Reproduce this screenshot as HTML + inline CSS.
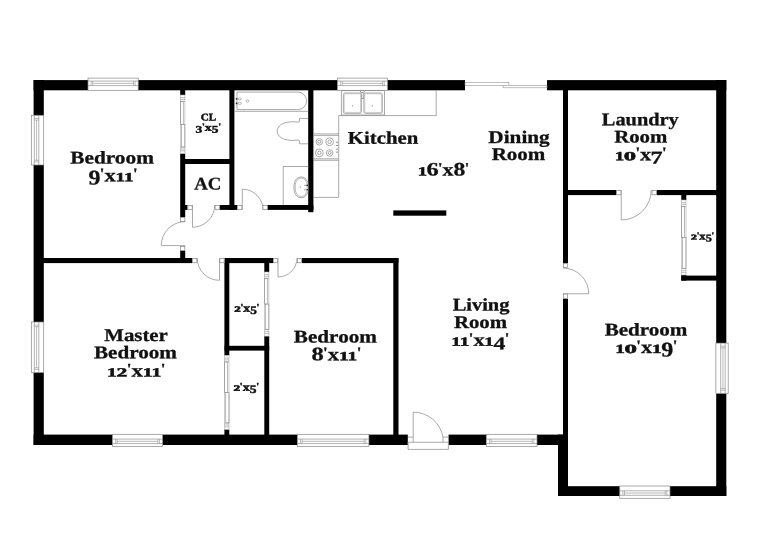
<!DOCTYPE html>
<html lang="en">
<head>
<meta charset="utf-8">
<title>Floor Plan</title>
<style>
html,body{margin:0;padding:0;background:#fff;}
body{width:760px;height:553px;overflow:hidden;font-family:"Liberation Serif",serif;}
svg{display:block;}
</style>
</head>
<body>
<svg width="760" height="553" viewBox="0 0 760 553">
<rect x="0" y="0" width="760" height="553" fill="#fff"/>
<g id="doors">
<path d="M185.25 245.60 L161.25 245.60 A24.00 24.00 0 0 1 185.25 221.60" fill="none" stroke="#858585" stroke-width="0.7"/>
<path d="M192.50 205.00 L192.50 227.25 A22.25 22.25 0 0 0 214.75 205.00" fill="none" stroke="#858585" stroke-width="0.7"/>
<path d="M242.30 210.00 L242.30 189.20 A20.80 20.80 0 0 1 263.10 210.00" fill="none" stroke="#858585" stroke-width="0.7"/>
<path d="M219.50 258.00 L219.50 280.30 A22.30 22.30 0 0 1 197.20 258.00" fill="none" stroke="#858585" stroke-width="0.7"/>
<path d="M278.00 258.00 L278.00 277.00 A19.00 19.00 0 0 0 297.00 258.00" fill="none" stroke="#858585" stroke-width="0.7"/>
<path d="M563.00 293.75 L588.75 293.75 A25.75 25.75 0 0 0 563.00 268.00" fill="none" stroke="#858585" stroke-width="0.7"/>
<path d="M621.25 190.00 L621.25 220.00 A30.00 30.00 0 0 0 651.25 190.00" fill="none" stroke="#858585" stroke-width="0.7"/>
</g>
<g id="walls" fill="#000">
<rect x="33.60" y="80.10" width="54.40" height="10.20" fill="#000"/>
<rect x="138.00" y="80.10" width="199.50" height="10.20" fill="#000"/>
<rect x="387.40" y="80.10" width="77.60" height="10.20" fill="#000"/>
<rect x="547.00" y="80.10" width="179.30" height="10.20" fill="#000"/>
<rect x="33.60" y="80.10" width="10.20" height="35.50" fill="#000"/>
<rect x="33.60" y="165.00" width="10.20" height="157.00" fill="#000"/>
<rect x="33.60" y="372.50" width="10.20" height="72.50" fill="#000"/>
<rect x="33.60" y="434.60" width="78.90" height="10.40" fill="#000"/>
<rect x="162.50" y="434.60" width="134.90" height="10.40" fill="#000"/>
<rect x="368.90" y="434.60" width="39.00" height="10.40" fill="#000"/>
<rect x="448.30" y="434.60" width="38.00" height="10.40" fill="#000"/>
<rect x="537.00" y="434.60" width="31.00" height="10.40" fill="#000"/>
<rect x="558.00" y="434.60" width="10.00" height="61.40" fill="#000"/>
<rect x="558.00" y="486.20" width="61.80" height="9.80" fill="#000"/>
<rect x="670.00" y="486.20" width="56.30" height="9.80" fill="#000"/>
<rect x="716.20" y="80.10" width="10.10" height="263.20" fill="#000"/>
<rect x="716.20" y="393.50" width="10.10" height="102.50" fill="#000"/>
<rect x="180.20" y="89.30" width="5.00" height="5.70" fill="#000"/>
<rect x="180.20" y="153.50" width="5.00" height="63.50" fill="#000"/>
<rect x="180.20" y="250.70" width="5.00" height="8.30" fill="#000"/>
<rect x="185.00" y="159.00" width="45.00" height="5.00" fill="#000"/>
<rect x="229.40" y="89.30" width="5.00" height="120.70" fill="#000"/>
<rect x="185.00" y="205.00" width="2.50" height="4.90" fill="#000"/>
<rect x="219.75" y="205.00" width="17.35" height="4.90" fill="#000"/>
<rect x="267.50" y="205.00" width="45.90" height="4.90" fill="#000"/>
<rect x="308.20" y="89.30" width="5.20" height="122.90" fill="#000"/>
<rect x="42.80" y="258.00" width="149.20" height="5.10" fill="#000"/>
<rect x="224.50" y="258.00" width="48.50" height="5.10" fill="#000"/>
<rect x="302.00" y="258.00" width="96.40" height="5.10" fill="#000"/>
<rect x="393.30" y="258.00" width="5.20" height="177.60" fill="#000"/>
<rect x="393.30" y="210.40" width="53.00" height="5.30" fill="#000"/>
<rect x="224.40" y="263.00" width="4.90" height="92.50" fill="#000"/>
<rect x="224.40" y="429.40" width="4.90" height="6.20" fill="#000"/>
<rect x="224.50" y="345.80" width="44.70" height="4.80" fill="#000"/>
<rect x="264.30" y="263.00" width="4.90" height="9.00" fill="#000"/>
<rect x="264.30" y="336.10" width="4.90" height="99.50" fill="#000"/>
<rect x="563.00" y="89.30" width="5.00" height="173.70" fill="#000"/>
<rect x="563.00" y="298.75" width="5.00" height="136.85" fill="#000"/>
<rect x="567.00" y="190.00" width="49.30" height="5.10" fill="#000"/>
<rect x="656.70" y="190.00" width="60.50" height="5.10" fill="#000"/>
<rect x="681.30" y="195.00" width="5.00" height="5.00" fill="#000"/>
<rect x="681.30" y="275.00" width="5.00" height="5.60" fill="#000"/>
<rect x="681.30" y="275.60" width="35.90" height="5.00" fill="#000"/>
</g>
<g id="frames">
<rect x="180.55" y="217.35" width="4.30" height="4.30" fill="#fff" stroke="#858585" stroke-width="0.7"/>
<rect x="180.55" y="246.35" width="4.30" height="4.00" fill="#fff" stroke="#858585" stroke-width="0.7"/>
<rect x="187.85" y="205.35" width="4.30" height="4.20" fill="#fff" stroke="#858585" stroke-width="0.7"/>
<rect x="215.10" y="205.35" width="4.30" height="4.20" fill="#fff" stroke="#858585" stroke-width="0.7"/>
<rect x="237.45" y="205.35" width="4.40" height="4.20" fill="#fff" stroke="#858585" stroke-width="0.7"/>
<rect x="262.95" y="205.35" width="4.30" height="4.20" fill="#fff" stroke="#858585" stroke-width="0.7"/>
<rect x="192.35" y="258.35" width="4.50" height="4.40" fill="#fff" stroke="#858585" stroke-width="0.7"/>
<rect x="219.85" y="258.35" width="4.30" height="4.40" fill="#fff" stroke="#858585" stroke-width="0.7"/>
<rect x="273.35" y="258.35" width="4.30" height="4.40" fill="#fff" stroke="#858585" stroke-width="0.7"/>
<rect x="297.35" y="258.35" width="4.30" height="4.40" fill="#fff" stroke="#858585" stroke-width="0.7"/>
<rect x="563.35" y="263.35" width="4.30" height="4.30" fill="#fff" stroke="#858585" stroke-width="0.7"/>
<rect x="563.35" y="294.10" width="4.30" height="4.30" fill="#fff" stroke="#858585" stroke-width="0.7"/>
<rect x="616.65" y="190.35" width="4.30" height="4.40" fill="#fff" stroke="#858585" stroke-width="0.7"/>
<rect x="652.05" y="190.35" width="4.30" height="4.40" fill="#fff" stroke="#858585" stroke-width="0.7"/>
</g>
<g id="windows">
<rect x="88.00" y="78.10" width="50.20" height="12.20" fill="#fff" stroke="#858585" stroke-width="0.7"/>
<line x1="88.00" y1="81.10" x2="138.20" y2="81.10" stroke="#858585" stroke-width="0.63"/>
<line x1="88.00" y1="85.60" x2="138.20" y2="85.60" stroke="#858585" stroke-width="0.63"/>
<line x1="91.10" y1="81.10" x2="91.10" y2="85.60" stroke="#858585" stroke-width="0.5599999999999999"/>
<line x1="92.70" y1="81.10" x2="92.70" y2="85.60" stroke="#858585" stroke-width="0.5599999999999999"/>
<line x1="135.10" y1="81.10" x2="135.10" y2="85.60" stroke="#858585" stroke-width="0.5599999999999999"/>
<line x1="133.50" y1="81.10" x2="133.50" y2="85.60" stroke="#858585" stroke-width="0.5599999999999999"/>
<line x1="92.70" y1="83.35" x2="133.50" y2="83.35" stroke="#858585" stroke-width="0.5599999999999999"/>
<rect x="337.50" y="78.10" width="49.90" height="12.20" fill="#fff" stroke="#858585" stroke-width="0.7"/>
<line x1="337.50" y1="81.10" x2="387.40" y2="81.10" stroke="#858585" stroke-width="0.63"/>
<line x1="337.50" y1="85.60" x2="387.40" y2="85.60" stroke="#858585" stroke-width="0.63"/>
<line x1="340.60" y1="81.10" x2="340.60" y2="85.60" stroke="#858585" stroke-width="0.5599999999999999"/>
<line x1="342.20" y1="81.10" x2="342.20" y2="85.60" stroke="#858585" stroke-width="0.5599999999999999"/>
<line x1="384.30" y1="81.10" x2="384.30" y2="85.60" stroke="#858585" stroke-width="0.5599999999999999"/>
<line x1="382.70" y1="81.10" x2="382.70" y2="85.60" stroke="#858585" stroke-width="0.5599999999999999"/>
<line x1="342.20" y1="83.35" x2="382.70" y2="83.35" stroke="#858585" stroke-width="0.5599999999999999"/>
<rect x="112.50" y="434.30" width="50.00" height="12.30" fill="#fff" stroke="#858585" stroke-width="0.7"/>
<line x1="112.50" y1="443.60" x2="162.50" y2="443.60" stroke="#858585" stroke-width="0.63"/>
<line x1="112.50" y1="439.10" x2="162.50" y2="439.10" stroke="#858585" stroke-width="0.63"/>
<line x1="115.60" y1="443.60" x2="115.60" y2="439.10" stroke="#858585" stroke-width="0.5599999999999999"/>
<line x1="117.20" y1="443.60" x2="117.20" y2="439.10" stroke="#858585" stroke-width="0.5599999999999999"/>
<line x1="159.40" y1="443.60" x2="159.40" y2="439.10" stroke="#858585" stroke-width="0.5599999999999999"/>
<line x1="157.80" y1="443.60" x2="157.80" y2="439.10" stroke="#858585" stroke-width="0.5599999999999999"/>
<line x1="117.20" y1="441.35" x2="157.80" y2="441.35" stroke="#858585" stroke-width="0.5599999999999999"/>
<rect x="297.40" y="434.30" width="71.50" height="12.30" fill="#fff" stroke="#858585" stroke-width="0.7"/>
<line x1="297.40" y1="443.60" x2="368.90" y2="443.60" stroke="#858585" stroke-width="0.63"/>
<line x1="297.40" y1="439.10" x2="368.90" y2="439.10" stroke="#858585" stroke-width="0.63"/>
<line x1="300.50" y1="443.60" x2="300.50" y2="439.10" stroke="#858585" stroke-width="0.5599999999999999"/>
<line x1="302.10" y1="443.60" x2="302.10" y2="439.10" stroke="#858585" stroke-width="0.5599999999999999"/>
<line x1="365.80" y1="443.60" x2="365.80" y2="439.10" stroke="#858585" stroke-width="0.5599999999999999"/>
<line x1="364.20" y1="443.60" x2="364.20" y2="439.10" stroke="#858585" stroke-width="0.5599999999999999"/>
<line x1="302.10" y1="441.35" x2="364.20" y2="441.35" stroke="#858585" stroke-width="0.5599999999999999"/>
<rect x="486.30" y="434.30" width="50.70" height="12.30" fill="#fff" stroke="#858585" stroke-width="0.7"/>
<line x1="486.30" y1="443.60" x2="537.00" y2="443.60" stroke="#858585" stroke-width="0.63"/>
<line x1="486.30" y1="439.10" x2="537.00" y2="439.10" stroke="#858585" stroke-width="0.63"/>
<line x1="489.40" y1="443.60" x2="489.40" y2="439.10" stroke="#858585" stroke-width="0.5599999999999999"/>
<line x1="491.00" y1="443.60" x2="491.00" y2="439.10" stroke="#858585" stroke-width="0.5599999999999999"/>
<line x1="533.90" y1="443.60" x2="533.90" y2="439.10" stroke="#858585" stroke-width="0.5599999999999999"/>
<line x1="532.30" y1="443.60" x2="532.30" y2="439.10" stroke="#858585" stroke-width="0.5599999999999999"/>
<line x1="491.00" y1="441.35" x2="532.30" y2="441.35" stroke="#858585" stroke-width="0.5599999999999999"/>
<rect x="619.80" y="486.00" width="50.20" height="12.30" fill="#fff" stroke="#858585" stroke-width="0.7"/>
<line x1="619.80" y1="495.30" x2="670.00" y2="495.30" stroke="#858585" stroke-width="0.63"/>
<line x1="619.80" y1="490.80" x2="670.00" y2="490.80" stroke="#858585" stroke-width="0.63"/>
<line x1="622.90" y1="495.30" x2="622.90" y2="490.80" stroke="#858585" stroke-width="0.5599999999999999"/>
<line x1="624.50" y1="495.30" x2="624.50" y2="490.80" stroke="#858585" stroke-width="0.5599999999999999"/>
<line x1="666.90" y1="495.30" x2="666.90" y2="490.80" stroke="#858585" stroke-width="0.5599999999999999"/>
<line x1="665.30" y1="495.30" x2="665.30" y2="490.80" stroke="#858585" stroke-width="0.5599999999999999"/>
<line x1="624.50" y1="493.05" x2="665.30" y2="493.05" stroke="#858585" stroke-width="0.5599999999999999"/>
<rect x="31.30" y="115.30" width="12.40" height="49.70" fill="#fff" stroke="#858585" stroke-width="0.7"/>
<line x1="34.30" y1="115.30" x2="34.30" y2="165.00" stroke="#858585" stroke-width="0.63"/>
<line x1="38.80" y1="115.30" x2="38.80" y2="165.00" stroke="#858585" stroke-width="0.63"/>
<line x1="34.30" y1="118.40" x2="38.80" y2="118.40" stroke="#858585" stroke-width="0.5599999999999999"/>
<line x1="34.30" y1="120.00" x2="38.80" y2="120.00" stroke="#858585" stroke-width="0.5599999999999999"/>
<line x1="34.30" y1="161.90" x2="38.80" y2="161.90" stroke="#858585" stroke-width="0.5599999999999999"/>
<line x1="34.30" y1="160.30" x2="38.80" y2="160.30" stroke="#858585" stroke-width="0.5599999999999999"/>
<line x1="36.55" y1="120.00" x2="36.55" y2="160.30" stroke="#858585" stroke-width="0.5599999999999999"/>
<rect x="31.30" y="322.00" width="12.40" height="50.50" fill="#fff" stroke="#858585" stroke-width="0.7"/>
<line x1="34.30" y1="322.00" x2="34.30" y2="372.50" stroke="#858585" stroke-width="0.63"/>
<line x1="38.80" y1="322.00" x2="38.80" y2="372.50" stroke="#858585" stroke-width="0.63"/>
<line x1="34.30" y1="325.10" x2="38.80" y2="325.10" stroke="#858585" stroke-width="0.5599999999999999"/>
<line x1="34.30" y1="326.70" x2="38.80" y2="326.70" stroke="#858585" stroke-width="0.5599999999999999"/>
<line x1="34.30" y1="369.40" x2="38.80" y2="369.40" stroke="#858585" stroke-width="0.5599999999999999"/>
<line x1="34.30" y1="367.80" x2="38.80" y2="367.80" stroke="#858585" stroke-width="0.5599999999999999"/>
<line x1="36.55" y1="326.70" x2="36.55" y2="367.80" stroke="#858585" stroke-width="0.5599999999999999"/>
<rect x="715.90" y="343.10" width="12.30" height="50.20" fill="#fff" stroke="#858585" stroke-width="0.7"/>
<line x1="725.20" y1="343.10" x2="725.20" y2="393.30" stroke="#858585" stroke-width="0.63"/>
<line x1="720.70" y1="343.10" x2="720.70" y2="393.30" stroke="#858585" stroke-width="0.63"/>
<line x1="725.20" y1="346.20" x2="720.70" y2="346.20" stroke="#858585" stroke-width="0.5599999999999999"/>
<line x1="725.20" y1="347.80" x2="720.70" y2="347.80" stroke="#858585" stroke-width="0.5599999999999999"/>
<line x1="725.20" y1="390.20" x2="720.70" y2="390.20" stroke="#858585" stroke-width="0.5599999999999999"/>
<line x1="725.20" y1="388.60" x2="720.70" y2="388.60" stroke="#858585" stroke-width="0.5599999999999999"/>
<line x1="722.95" y1="347.80" x2="722.95" y2="388.60" stroke="#858585" stroke-width="0.5599999999999999"/>
</g>
<g id="slider">
<rect x="465.00" y="82.70" width="43.90" height="2.70" fill="#fff" stroke="#8f8f8f" stroke-width="0.5599999999999999"/>
<rect x="503.10" y="85.30" width="43.90" height="2.50" fill="#fff" stroke="#8f8f8f" stroke-width="0.5599999999999999"/>
</g>
<g id="frontdoor">
<rect x="407.90" y="434.00" width="40.50" height="15.50" fill="#fff"/>
<path d="M413.2 442.25 V412.2 A30 30 0 0 1 443 437 V442.25" fill="none" stroke="#858585" stroke-width="0.7"/>
<line x1="407.90" y1="442.25" x2="448.40" y2="442.25" stroke="#858585" stroke-width="0.7"/>
<line x1="407.90" y1="437.10" x2="413.20" y2="437.10" stroke="#858585" stroke-width="0.7"/>
<line x1="443.00" y1="437.10" x2="448.40" y2="437.10" stroke="#858585" stroke-width="0.7"/>
<path d="M408.1 442.25 V449.4 H448.4 V442.25" fill="none" stroke="#858585" stroke-width="0.7"/>
</g>
<g id="sliders">
<rect x="180.20" y="95.00" width="5.00" height="58.50" fill="#fff"/>
<rect x="180.50" y="95.00" width="4.40" height="58.50" fill="none" stroke="#a8a8a8" stroke-width="0.5599999999999999"/>
<line x1="180.50" y1="101.40" x2="184.90" y2="101.40" stroke="#858585" stroke-width="0.5249999999999999"/>
<line x1="180.50" y1="97.60" x2="184.90" y2="97.60" stroke="#858585" stroke-width="0.5249999999999999"/>
<line x1="180.50" y1="99.40" x2="184.90" y2="99.40" stroke="#858585" stroke-width="0.5249999999999999"/>
<line x1="180.50" y1="147.10" x2="184.90" y2="147.10" stroke="#858585" stroke-width="0.5249999999999999"/>
<line x1="180.50" y1="150.90" x2="184.90" y2="150.90" stroke="#858585" stroke-width="0.5249999999999999"/>
<line x1="180.50" y1="149.10" x2="184.90" y2="149.10" stroke="#858585" stroke-width="0.5249999999999999"/>
<rect x="180.50" y="101.40" width="2.70" height="22.85" fill="none" stroke="#858585" stroke-width="0.5599999999999999"/>
<rect x="181.60" y="124.25" width="3.30" height="22.85" fill="none" stroke="#858585" stroke-width="0.5599999999999999"/>
<rect x="224.40" y="355.50" width="4.90" height="73.90" fill="#fff"/>
<rect x="224.70" y="355.50" width="4.30" height="73.90" fill="none" stroke="#a8a8a8" stroke-width="0.5599999999999999"/>
<line x1="224.70" y1="361.90" x2="229.00" y2="361.90" stroke="#858585" stroke-width="0.5249999999999999"/>
<line x1="224.70" y1="358.10" x2="229.00" y2="358.10" stroke="#858585" stroke-width="0.5249999999999999"/>
<line x1="224.70" y1="359.90" x2="229.00" y2="359.90" stroke="#858585" stroke-width="0.5249999999999999"/>
<line x1="224.70" y1="423.00" x2="229.00" y2="423.00" stroke="#858585" stroke-width="0.5249999999999999"/>
<line x1="224.70" y1="426.80" x2="229.00" y2="426.80" stroke="#858585" stroke-width="0.5249999999999999"/>
<line x1="224.70" y1="425.00" x2="229.00" y2="425.00" stroke="#858585" stroke-width="0.5249999999999999"/>
<rect x="224.70" y="361.90" width="2.64" height="30.55" fill="none" stroke="#858585" stroke-width="0.5599999999999999"/>
<rect x="225.77" y="392.45" width="3.23" height="30.55" fill="none" stroke="#858585" stroke-width="0.5599999999999999"/>
<rect x="264.30" y="272.00" width="4.90" height="64.10" fill="#fff"/>
<rect x="264.60" y="272.00" width="4.30" height="64.10" fill="none" stroke="#a8a8a8" stroke-width="0.5599999999999999"/>
<line x1="264.60" y1="278.40" x2="268.90" y2="278.40" stroke="#858585" stroke-width="0.5249999999999999"/>
<line x1="264.60" y1="274.60" x2="268.90" y2="274.60" stroke="#858585" stroke-width="0.5249999999999999"/>
<line x1="264.60" y1="276.40" x2="268.90" y2="276.40" stroke="#858585" stroke-width="0.5249999999999999"/>
<line x1="264.60" y1="329.70" x2="268.90" y2="329.70" stroke="#858585" stroke-width="0.5249999999999999"/>
<line x1="264.60" y1="333.50" x2="268.90" y2="333.50" stroke="#858585" stroke-width="0.5249999999999999"/>
<line x1="264.60" y1="331.70" x2="268.90" y2="331.70" stroke="#858585" stroke-width="0.5249999999999999"/>
<rect x="264.60" y="278.40" width="2.64" height="25.65" fill="none" stroke="#858585" stroke-width="0.5599999999999999"/>
<rect x="265.67" y="304.05" width="3.23" height="25.65" fill="none" stroke="#858585" stroke-width="0.5599999999999999"/>
<rect x="681.30" y="200.00" width="5.00" height="75.00" fill="#fff"/>
<rect x="681.60" y="200.00" width="4.40" height="75.00" fill="none" stroke="#a8a8a8" stroke-width="0.5599999999999999"/>
<line x1="681.60" y1="206.40" x2="686.00" y2="206.40" stroke="#858585" stroke-width="0.5249999999999999"/>
<line x1="681.60" y1="202.60" x2="686.00" y2="202.60" stroke="#858585" stroke-width="0.5249999999999999"/>
<line x1="681.60" y1="204.40" x2="686.00" y2="204.40" stroke="#858585" stroke-width="0.5249999999999999"/>
<line x1="681.60" y1="268.60" x2="686.00" y2="268.60" stroke="#858585" stroke-width="0.5249999999999999"/>
<line x1="681.60" y1="272.40" x2="686.00" y2="272.40" stroke="#858585" stroke-width="0.5249999999999999"/>
<line x1="681.60" y1="270.60" x2="686.00" y2="270.60" stroke="#858585" stroke-width="0.5249999999999999"/>
<rect x="681.60" y="206.40" width="2.70" height="31.10" fill="none" stroke="#858585" stroke-width="0.5599999999999999"/>
<rect x="682.70" y="237.50" width="3.30" height="31.10" fill="none" stroke="#858585" stroke-width="0.5599999999999999"/>
</g>
<g id="bath">
<line x1="234.40" y1="111.30" x2="308.20" y2="111.30" stroke="#858585" stroke-width="0.7"/>
<path d="M237 92.1 H297.8 A8.75 8.75 0 0 1 297.8 109.6 H237 Z" fill="none" stroke="#858585" stroke-width="0.7"/>
<circle cx="247.4" cy="100.9" r="1.3" fill="none" stroke="#858585" stroke-width="0.5599999999999999"/>
<circle cx="236.6" cy="98.8" r="0.9" fill="#222"/>
<ellipse cx="239.7" cy="98.8" rx="1.7" ry="1.0" fill="none" stroke="#858585" stroke-width="0.5599999999999999"/>
<circle cx="236.6" cy="103.4" r="0.9" fill="#222"/>
<ellipse cx="239.7" cy="103.4" rx="1.7" ry="1.0" fill="none" stroke="#858585" stroke-width="0.5599999999999999"/>
<path d="M308.2 118.4 H299.5 V121.6 L298.2 122.2 C289 120.6 277.2 123 277.2 131.1 C277.2 139.2 289 141.6 298.2 140 L299.5 140.6 V143.8 H308.2" fill="none" stroke="#858585" stroke-width="0.7"/>
<path d="M308.2 166.5 H283.2 V205" fill="none" stroke="#858585" stroke-width="0.7"/>
<rect x="294" y="176.9" width="14.4" height="20.9" rx="7.2" ry="8.6" fill="none" stroke="#858585" stroke-width="0.7"/>
<rect x="295.2" y="178.1" width="12" height="18.5" rx="6" ry="7.6" fill="none" stroke="#858585" stroke-width="0.5599999999999999"/>
<circle cx="300.2" cy="187.1" r="0.5" fill="#555"/>
<circle cx="307.3" cy="185.4" r="0.8" fill="#222"/>
<line x1="304.20" y1="185.40" x2="306.80" y2="185.40" stroke="#858585" stroke-width="0.84"/>
<circle cx="307.3" cy="189.7" r="0.8" fill="#222"/>
<line x1="304.20" y1="189.70" x2="306.80" y2="189.70" stroke="#858585" stroke-width="0.84"/>
</g>
<g id="kitchen">
<path d="M436.2 90.3 V115.6 H338.7 V197.4 H313.4" fill="none" stroke="#858585" stroke-width="0.7"/>
<rect x="341.30" y="90.70" width="43.10" height="24.30" fill="none" stroke="#858585" stroke-width="0.7"/>
<rect x="343.4" y="93" width="18" height="20.3" rx="1.5" fill="none" stroke="#858585" stroke-width="0.7"/>
<rect x="363.9" y="93" width="18.4" height="20.3" rx="1.5" fill="none" stroke="#858585" stroke-width="0.7"/>
<rect x="344.3" y="93.9" width="16.2" height="18.5" rx="1.2" fill="none" stroke="#a5a5a5" stroke-width="0.48999999999999994"/>
<rect x="364.8" y="93.9" width="16.6" height="18.5" rx="1.2" fill="none" stroke="#a5a5a5" stroke-width="0.48999999999999994"/>
<circle cx="352.6" cy="105.7" r="0.5" fill="#555"/>
<circle cx="372.3" cy="105.7" r="0.5" fill="#555"/>
<rect x="361.90" y="91.80" width="1.40" height="7.00" fill="#fff" stroke="#858585" stroke-width="0.5599999999999999"/>
<rect x="360.60" y="90.90" width="4.00" height="1.70" fill="#fff" stroke="#858585" stroke-width="0.5599999999999999"/>
<line x1="313.40" y1="133.90" x2="338.70" y2="133.90" stroke="#858585" stroke-width="0.7"/>
<line x1="313.40" y1="135.40" x2="338.70" y2="135.40" stroke="#858585" stroke-width="0.7"/>
<line x1="313.40" y1="158.80" x2="338.70" y2="158.80" stroke="#858585" stroke-width="0.7"/>
<line x1="313.40" y1="160.30" x2="338.70" y2="160.30" stroke="#858585" stroke-width="0.7"/>
<circle cx="319.3" cy="141.8" r="3.2" fill="none" stroke="#858585" stroke-width="0.7"/>
<circle cx="319.3" cy="141.8" r="1.4400000000000002" fill="none" stroke="#858585" stroke-width="0.7"/>
<circle cx="329.6" cy="141.8" r="3.9" fill="none" stroke="#858585" stroke-width="0.7"/>
<circle cx="329.6" cy="141.8" r="1.755" fill="none" stroke="#858585" stroke-width="0.7"/>
<circle cx="319.3" cy="152.9" r="3.9" fill="none" stroke="#858585" stroke-width="0.7"/>
<circle cx="319.3" cy="152.9" r="1.755" fill="none" stroke="#858585" stroke-width="0.7"/>
<circle cx="329.6" cy="152.9" r="3.3" fill="none" stroke="#858585" stroke-width="0.7"/>
<circle cx="329.6" cy="152.9" r="1.4849999999999999" fill="none" stroke="#858585" stroke-width="0.7"/>
<line x1="336.30" y1="142.30" x2="337.80" y2="142.30" stroke="#444" stroke-width="0.8"/>
<line x1="336.30" y1="145.50" x2="337.80" y2="145.50" stroke="#444" stroke-width="0.8"/>
<line x1="336.30" y1="149.20" x2="337.80" y2="149.20" stroke="#444" stroke-width="0.8"/>
<line x1="336.30" y1="152.10" x2="337.80" y2="152.10" stroke="#444" stroke-width="0.8"/>
</g>
<g id="labels" style="opacity:0.999" text-rendering="geometricPrecision" font-family="'Liberation Serif', serif" font-weight="bold" fill="#111">
<text transform="translate(70.24 163.40) rotate(0.03) scale(1.1917 1)" font-size="17.90" stroke="#111" stroke-width="0.3">Bedroom</text>
<text transform="translate(88.55 184.60) rotate(0.03) scale(1.1454 1)" font-size="21.00" stroke="#111" stroke-width="0.27">9</text>
<text transform="translate(99.84 178.30) rotate(0.03) scale(1.1398 1)" font-size="14.50" stroke="#111" stroke-width="0.30">&#39;</text>
<text transform="translate(104.53 181.20) rotate(0.03) scale(1.2454 1)" font-size="18.00" stroke="#111" stroke-width="0.27">x</text>
<text transform="translate(115.43 181.20) rotate(0.03) scale(1.5184 1)" font-size="12.60" stroke="#111" stroke-width="0.50">1</text>
<text transform="translate(124.06 181.20) rotate(0.03) scale(1.5184 1)" font-size="12.60" stroke="#111" stroke-width="0.50">1</text>
<text transform="translate(133.06 178.30) rotate(0.03) scale(1.1398 1)" font-size="14.50" stroke="#111" stroke-width="0.30">&#39;</text>
<text transform="translate(200.65 120.60) rotate(0.03) scale(1.0844 1)" font-size="10.30" stroke="#111" stroke-width="0.42">CL</text>
<text transform="translate(195.59 132.76) rotate(0.03) scale(1.3056 1)" font-size="10.34" stroke="#111" stroke-width="0.45">3</text>
<text transform="translate(201.96 129.12) rotate(0.03) scale(1.2231 1)" font-size="8.38" stroke="#111" stroke-width="0.46">&#39;</text>
<text transform="translate(204.87 130.80) rotate(0.03) scale(1.3364 1)" font-size="10.40" stroke="#111" stroke-width="0.45">x</text>
<text transform="translate(211.86 132.76) rotate(0.03) scale(1.2929 1)" font-size="10.34" stroke="#111" stroke-width="0.45">5</text>
<text transform="translate(218.13 129.12) rotate(0.03) scale(1.2231 1)" font-size="8.38" stroke="#111" stroke-width="0.46">&#39;</text>
<text transform="translate(194.31 189.50) rotate(0.03) scale(1.0489 1)" font-size="17.90" stroke="#111" stroke-width="0.3">AC</text>
<text transform="translate(347.85 143.75) rotate(0.03) scale(1.1618 1)" font-size="17.90" stroke="#111" stroke-width="0.3">Kitchen</text>
<text transform="translate(417.81 175.60) rotate(0.03) scale(1.4824 1)" font-size="12.60" stroke="#111" stroke-width="0.50">1</text>
<text transform="translate(426.46 175.60) rotate(0.03) scale(1.2826 1)" font-size="19.00" stroke="#111" stroke-width="0.27">6</text>
<text transform="translate(437.92 172.70) rotate(0.03) scale(1.1128 1)" font-size="14.50" stroke="#111" stroke-width="0.30">&#39;</text>
<text transform="translate(442.50 175.60) rotate(0.03) scale(1.2159 1)" font-size="18.00" stroke="#111" stroke-width="0.27">x</text>
<text transform="translate(453.52 175.60) rotate(0.03) scale(1.2445 1)" font-size="19.00" stroke="#111" stroke-width="0.27">8</text>
<text transform="translate(464.64 172.70) rotate(0.03) scale(1.1128 1)" font-size="14.50" stroke="#111" stroke-width="0.30">&#39;</text>
<text transform="translate(488.37 143.00) rotate(0.03) scale(1.1858 1)" font-size="17.90" stroke="#111" stroke-width="0.3">Dining</text>
<text transform="translate(491.64 159.90) rotate(0.03) scale(1.1744 1)" font-size="17.90" stroke="#111" stroke-width="0.3">Room</text>
<text transform="translate(601.85 125.20) rotate(0.03) scale(1.1375 1)" font-size="17.90" stroke="#111" stroke-width="0.3">Laundry</text>
<text transform="translate(614.15 142.50) rotate(0.03) scale(1.1633 1)" font-size="17.90" stroke="#111" stroke-width="0.3">Room</text>
<text transform="translate(614.68 160.20) rotate(0.03) scale(1.5127 1)" font-size="12.60" stroke="#111" stroke-width="0.50">1</text>
<text transform="translate(623.71 160.20) rotate(0.03) scale(1.9602 1)" font-size="12.60" stroke="#111" stroke-width="0.50">0</text>
<text transform="translate(635.40 157.30) rotate(0.03) scale(1.1355 1)" font-size="14.50" stroke="#111" stroke-width="0.30">&#39;</text>
<text transform="translate(640.07 160.20) rotate(0.03) scale(1.2408 1)" font-size="18.00" stroke="#111" stroke-width="0.27">x</text>
<text transform="translate(650.53 163.60) rotate(0.03) scale(1.3567 1)" font-size="17.90" stroke="#111" stroke-width="0.27">7</text>
<text transform="translate(661.97 157.30) rotate(0.03) scale(1.1355 1)" font-size="14.50" stroke="#111" stroke-width="0.30">&#39;</text>
<text transform="translate(691.10 239.60) rotate(0.03) scale(1.6135 1)" font-size="7.35" stroke="#111" stroke-width="0.56">2</text>
<text transform="translate(696.71 237.91) rotate(0.03) scale(1.1020 1)" font-size="8.46" stroke="#111" stroke-width="0.46">&#39;</text>
<text transform="translate(699.35 239.60) rotate(0.03) scale(1.2041 1)" font-size="10.50" stroke="#111" stroke-width="0.45">x</text>
<text transform="translate(705.71 241.58) rotate(0.03) scale(1.1649 1)" font-size="10.44" stroke="#111" stroke-width="0.45">5</text>
<text transform="translate(711.42 237.91) rotate(0.03) scale(1.1020 1)" font-size="8.46" stroke="#111" stroke-width="0.46">&#39;</text>
<text transform="translate(234.36 311.80) rotate(0.03) scale(1.6231 1)" font-size="7.98" stroke="#111" stroke-width="0.56">2</text>
<text transform="translate(240.48 309.96) rotate(0.03) scale(1.1086 1)" font-size="9.18" stroke="#111" stroke-width="0.46">&#39;</text>
<text transform="translate(243.37 311.80) rotate(0.03) scale(1.2113 1)" font-size="11.40" stroke="#111" stroke-width="0.45">x</text>
<text transform="translate(250.31 313.95) rotate(0.03) scale(1.1719 1)" font-size="11.34" stroke="#111" stroke-width="0.45">5</text>
<text transform="translate(256.54 309.96) rotate(0.03) scale(1.1086 1)" font-size="9.18" stroke="#111" stroke-width="0.46">&#39;</text>
<text transform="translate(233.54 390.80) rotate(0.03) scale(1.6574 1)" font-size="7.98" stroke="#111" stroke-width="0.56">2</text>
<text transform="translate(239.80 388.96) rotate(0.03) scale(1.1320 1)" font-size="9.18" stroke="#111" stroke-width="0.46">&#39;</text>
<text transform="translate(242.74 390.80) rotate(0.03) scale(1.2369 1)" font-size="11.40" stroke="#111" stroke-width="0.45">x</text>
<text transform="translate(249.84 392.95) rotate(0.03) scale(1.1966 1)" font-size="11.34" stroke="#111" stroke-width="0.45">5</text>
<text transform="translate(256.20 388.96) rotate(0.03) scale(1.1320 1)" font-size="9.18" stroke="#111" stroke-width="0.46">&#39;</text>
<text transform="translate(104.25 341.00) rotate(0.03) scale(1.1637 1)" font-size="17.90" stroke="#111" stroke-width="0.3">Master</text>
<text transform="translate(93.94 358.30) rotate(0.03) scale(1.1817 1)" font-size="17.90" stroke="#111" stroke-width="0.3">Bedroom</text>
<text transform="translate(107.03 376.50) rotate(0.03) scale(1.5593 1)" font-size="12.60" stroke="#111" stroke-width="0.50">1</text>
<text transform="translate(116.45 376.50) rotate(0.03) scale(1.7137 1)" font-size="12.60" stroke="#111" stroke-width="0.50">2</text>
<text transform="translate(126.66 373.60) rotate(0.03) scale(1.1705 1)" font-size="14.50" stroke="#111" stroke-width="0.30">&#39;</text>
<text transform="translate(131.47 376.50) rotate(0.03) scale(1.2789 1)" font-size="18.00" stroke="#111" stroke-width="0.27">x</text>
<text transform="translate(142.67 376.50) rotate(0.03) scale(1.5593 1)" font-size="12.60" stroke="#111" stroke-width="0.50">1</text>
<text transform="translate(151.53 376.50) rotate(0.03) scale(1.5593 1)" font-size="12.60" stroke="#111" stroke-width="0.50">1</text>
<text transform="translate(160.77 373.60) rotate(0.03) scale(1.1705 1)" font-size="14.50" stroke="#111" stroke-width="0.30">&#39;</text>
<text transform="translate(293.84 342.50) rotate(0.03) scale(1.1831 1)" font-size="17.90" stroke="#111" stroke-width="0.3">Bedroom</text>
<text transform="translate(311.59 360.20) rotate(0.03) scale(1.2895 1)" font-size="19.00" stroke="#111" stroke-width="0.27">8</text>
<text transform="translate(323.12 357.30) rotate(0.03) scale(1.1531 1)" font-size="14.50" stroke="#111" stroke-width="0.30">&#39;</text>
<text transform="translate(327.86 360.20) rotate(0.03) scale(1.2599 1)" font-size="18.00" stroke="#111" stroke-width="0.27">x</text>
<text transform="translate(338.89 360.20) rotate(0.03) scale(1.5361 1)" font-size="12.60" stroke="#111" stroke-width="0.50">1</text>
<text transform="translate(347.62 360.20) rotate(0.03) scale(1.5361 1)" font-size="12.60" stroke="#111" stroke-width="0.50">1</text>
<text transform="translate(356.72 357.30) rotate(0.03) scale(1.1531 1)" font-size="14.50" stroke="#111" stroke-width="0.30">&#39;</text>
<text transform="translate(452.65 310.50) rotate(0.03) scale(1.1420 1)" font-size="17.90" stroke="#111" stroke-width="0.3">Living</text>
<text transform="translate(453.90 328.00) rotate(0.03) scale(1.1633 1)" font-size="17.90" stroke="#111" stroke-width="0.3">Room</text>
<text transform="translate(451.17 345.80) rotate(0.03) scale(1.5176 1)" font-size="12.60" stroke="#111" stroke-width="0.50">1</text>
<text transform="translate(459.79 345.80) rotate(0.03) scale(1.5176 1)" font-size="12.60" stroke="#111" stroke-width="0.50">1</text>
<text transform="translate(468.79 342.90) rotate(0.03) scale(1.1392 1)" font-size="14.50" stroke="#111" stroke-width="0.30">&#39;</text>
<text transform="translate(473.47 345.80) rotate(0.03) scale(1.2447 1)" font-size="18.00" stroke="#111" stroke-width="0.27">x</text>
<text transform="translate(484.37 345.80) rotate(0.03) scale(1.5176 1)" font-size="12.60" stroke="#111" stroke-width="0.50">1</text>
<text transform="translate(493.60 349.20) rotate(0.03) scale(1.3279 1)" font-size="17.90" stroke="#111" stroke-width="0.27">4</text>
<text transform="translate(504.86 342.90) rotate(0.03) scale(1.1392 1)" font-size="14.50" stroke="#111" stroke-width="0.30">&#39;</text>
<text transform="translate(604.64 335.40) rotate(0.03) scale(1.1788 1)" font-size="17.90" stroke="#111" stroke-width="0.3">Bedroom</text>
<text transform="translate(615.36 353.10) rotate(0.03) scale(1.5286 1)" font-size="12.60" stroke="#111" stroke-width="0.50">1</text>
<text transform="translate(624.49 353.10) rotate(0.03) scale(1.9808 1)" font-size="12.60" stroke="#111" stroke-width="0.50">0</text>
<text transform="translate(636.30 350.20) rotate(0.03) scale(1.1475 1)" font-size="14.50" stroke="#111" stroke-width="0.30">&#39;</text>
<text transform="translate(641.02 353.10) rotate(0.03) scale(1.2538 1)" font-size="18.00" stroke="#111" stroke-width="0.27">x</text>
<text transform="translate(652.00 353.10) rotate(0.03) scale(1.5286 1)" font-size="12.60" stroke="#111" stroke-width="0.50">1</text>
<text transform="translate(661.27 356.50) rotate(0.03) scale(1.1531 1)" font-size="21.00" stroke="#111" stroke-width="0.27">9</text>
<text transform="translate(672.64 350.20) rotate(0.03) scale(1.1475 1)" font-size="14.50" stroke="#111" stroke-width="0.30">&#39;</text>
</g>
</svg>
</body>
</html>
